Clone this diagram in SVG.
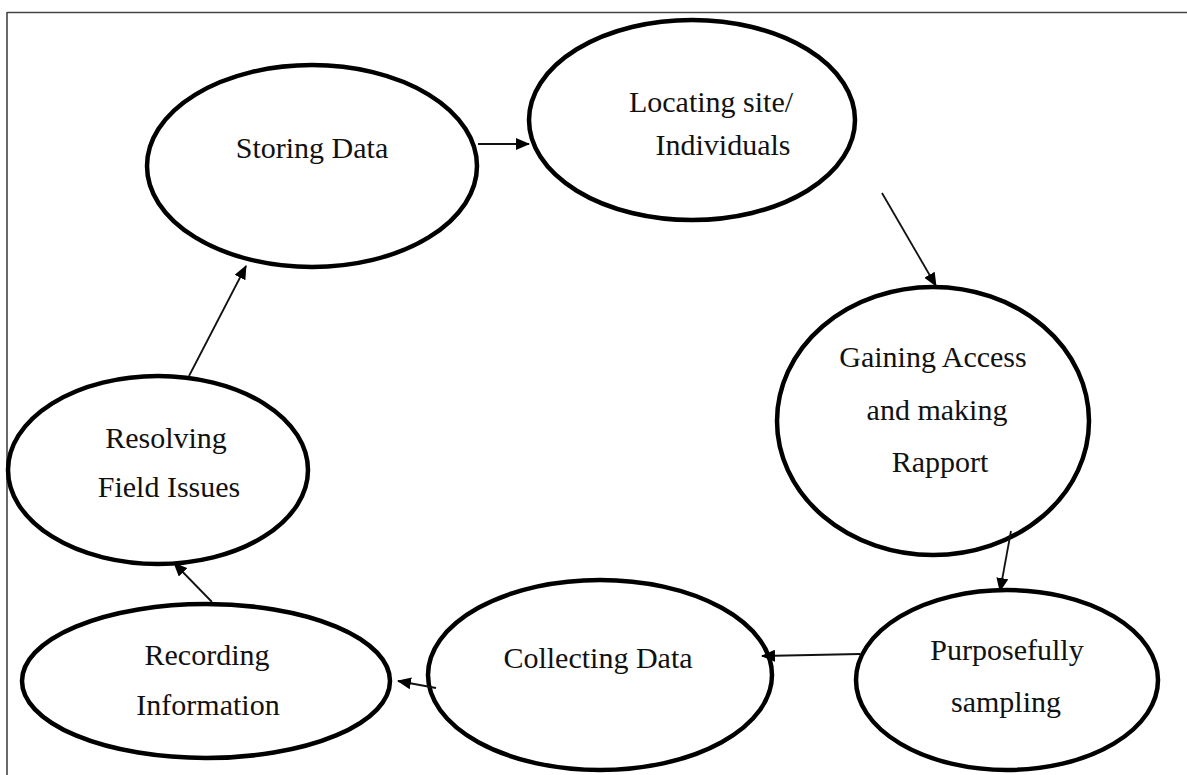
<svg xmlns="http://www.w3.org/2000/svg" width="1187" height="775" viewBox="0 0 1187 775">
<style>
.node ellipse{fill:#fff;stroke:#000;stroke-width:4.5}
.node text{font-family:"Liberation Serif","Times New Roman",serif;font-size:30px;fill:#111;text-anchor:middle}
.conn line{stroke:#111;stroke-width:1.8;marker-end:url(#ah)}
</style>
<defs>
<marker id="ah" markerWidth="14" markerHeight="12" refX="13" refY="6" orient="auto" markerUnits="userSpaceOnUse">
<path d="M0,0 L14,6 L0,12 Z" fill="#000"/>
</marker>
</defs>
<rect width="1187" height="775" fill="#fff"/>
<g id="frame" stroke="#444" stroke-width="1.6" fill="none">
<line x1="7" y1="12.5" x2="1187" y2="12.5"/>
<line x1="7" y1="12" x2="7" y2="775"/>
</g>
<g class="node" id="storing">
<ellipse cx="312" cy="166" rx="165" ry="101"/>
<text x="312" y="158">Storing Data</text>
</g>
<g class="node" id="locating">
<ellipse cx="692" cy="120" rx="163" ry="100"/>
<text x="711" y="112">Locating site/</text>
<text x="723" y="155">Individuals</text>
</g>
<g class="node" id="gaining">
<ellipse cx="933" cy="421" rx="156" ry="134"/>
<text x="933" y="367">Gaining Access</text>
<text x="937" y="420">and making</text>
<text x="940" y="472">Rapport</text>
</g>
<g class="node" id="purposefully">
<ellipse cx="1007" cy="680" rx="151" ry="90"/>
<text x="1007" y="660">Purposefully</text>
<text x="1006" y="712">sampling</text>
</g>
<g class="node" id="collecting">
<ellipse cx="600" cy="675" rx="172" ry="95"/>
<text x="598" y="668">Collecting Data</text>
</g>
<g class="node" id="recording">
<ellipse cx="206" cy="681" rx="184" ry="77"/>
<text x="207" y="665">Recording</text>
<text x="208" y="715">Information</text>
</g>
<g class="node" id="resolving">
<ellipse cx="158" cy="470" rx="150" ry="94"/>
<text x="166" y="448">Resolving</text>
<text x="169" y="497">Field Issues</text>
</g>
<g class="conn" id="connectors">
<line x1="478" y1="144" x2="529" y2="144"/>
<line x1="882" y1="193" x2="936" y2="286"/>
<line x1="1011" y1="531" x2="1000" y2="591"/>
<line x1="860" y1="654" x2="762" y2="656"/>
<line x1="436" y1="688" x2="398" y2="681"/>
<line x1="212" y1="602" x2="174" y2="563"/>
<line x1="189" y1="376" x2="246" y2="266"/>
</g>
</svg>
